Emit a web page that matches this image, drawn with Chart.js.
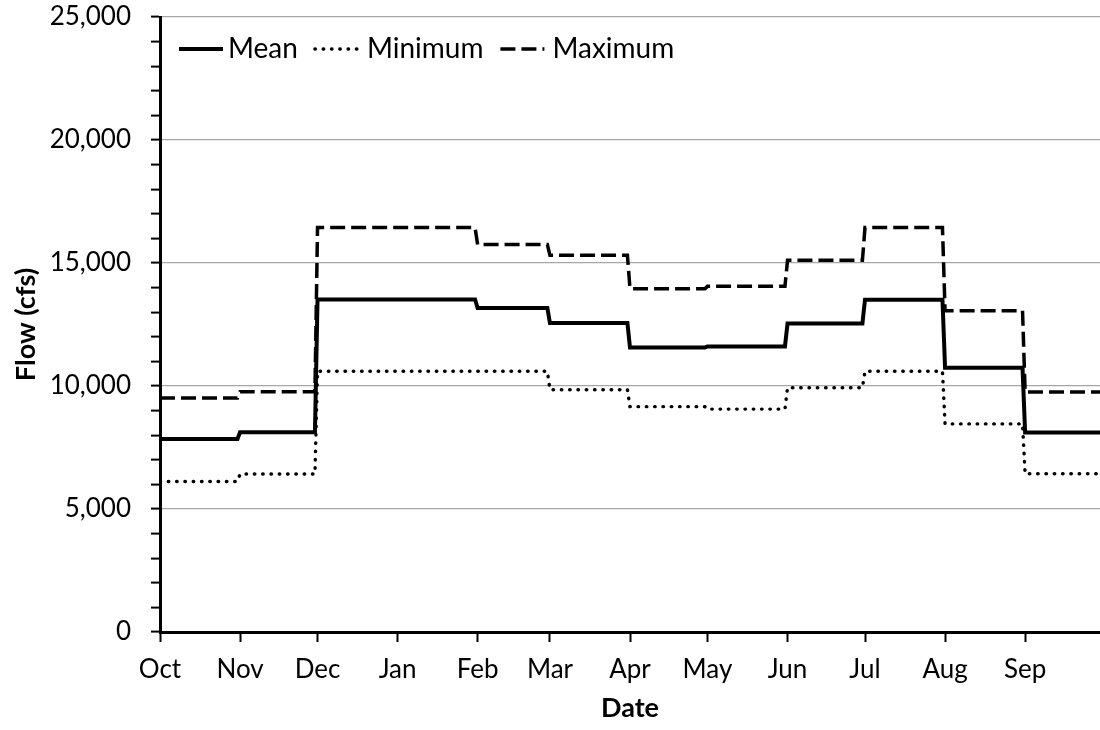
<!DOCTYPE html>
<html>
<head>
<meta charset="utf-8">
<script src="https://cdn.jsdelivr.net/npm/chart.js@4.4.1/dist/chart.umd.min.js"></script>
<style>
  body { margin: 0; background: #fff; }
  #wrap { width: 1100px; height: 730px; }
</style>
</head>
<body>
<div id="wrap"><canvas id="myChart"></canvas></div>
<script>
const monthLabels = ['Oct', 'Nov', 'Dec', 'Jan', 'Feb', 'Mar', 'Apr', 'May', 'Jun', 'Jul', 'Aug', 'Sep'];
// day of water year on which each month starts (Oct 1 = 0)
const monthStartDays = [0, 31, 61, 92, 123, 151, 182, 212, 243, 273, 304, 335];
const lastDay = 364;

const meanFlow = [7850, 8120, 13520, 13520, 13170, 12560, 11560, 11610, 12540, 13510, 10740, 8110];
const minFlow = [6120, 6420, 10600, 10600, 10600, 9850, 9160, 9060, 9930, 10600, 8460, 6430];
const maxFlow = [9510, 9770, 16440, 16440, 15750, 15310, 13950, 14050, 15110, 16440, 13060, 9760];

const yTicks = [0, 5000, 10000, 15000, 20000, 25000];

// one flat segment per month, first to last day
function toSteps(values) {
    let pts = [];
    values.forEach((v, i) => {
        const start = monthStartDays[i];
        const end = i < monthStartDays.length - 1 ? monthStartDays[i + 1] - 1 : lastDay;
        pts.push({ x: start, y: v });
        pts.push({ x: end, y: v });
    })
    return pts;
}

const fontFamily = 'Lato, "Open Sans", sans-serif';
const fontSize = 26;

// legend drawn inside the plot, in one row, line sample touching the label
const inlineLegend = {
    id: 'inlineLegend',
    afterDraw(chart) {
        const ctx = chart.ctx;
        const area = chart.chartArea;
        let x = area.left + 19;
        const y = area.top + 32;
        ctx.save();
        ctx.font = `28px ${fontFamily}`;
        ctx.textBaseline = 'middle';
        ctx.fillStyle = '#000';
        chart.data.datasets.forEach((ds, i) => {
            const gap = i === 0 ? 5 : 8;
            ctx.beginPath();
            ctx.setLineDash(ds.borderDash || []);
            ctx.lineWidth = ds.borderWidth;
            ctx.lineCap = ds.borderCapStyle || 'butt';
            ctx.strokeStyle = ds.borderColor;
            ctx.moveTo(x, y);
            ctx.lineTo(x + 44, y);
            ctx.stroke();
            ctx.fillText(ds.label, x + 44 + gap, y);
            x += 44 + gap + ctx.measureText(ds.label).width + 17;
        })
        ctx.restore();
    }
};

const graphData = {
    datasets: [
        {
            label: 'Mean',
            data: toSteps(meanFlow),
            borderColor: '#000',
            borderWidth: 4,
        },
        {
            label: 'Minimum',
            data: toSteps(minFlow),
            borderColor: '#000',
            borderWidth: 3.4,
            borderDash: [0.5, 7.8],
            borderCapStyle: 'round',
        },
        {
            label: 'Maximum',
            data: toSteps(maxFlow),
            borderColor: '#000',
            borderWidth: 3.5,
            borderDash: [15, 6],
        }
    ]
};

const config = {
    type: 'line',
    data: graphData,
    plugins: [inlineLegend],
    options: {
        responsive: true,
        maintainAspectRatio: false,
        animation: false,
        layout: { padding: 0 },
        elements: {
            point: { radius: 0 },
            line: { tension: 0 }
        },
        plugins: {
            legend: { display: false },
            tooltip: { enabled: false }
        },
        scales: {
            x: {
                type: 'linear',
                min: 0,
                max: lastDay,
                afterFit: (scale) => { scale.height = 98; },
                afterBuildTicks: (axis) => {
                    axis.ticks = monthStartDays.map(d => ({ value: d }));
                },
                border: { color: '#000', width: 3 },
                grid: {
                    drawOnChartArea: false,
                    tickLength: 10,
                    tickColor: '#000',
                    tickWidth: 2
                },
                ticks: {
                    autoSkip: false,
                    maxRotation: 0,
                    padding: 12,
                    color: '#000',
                    font: { family: fontFamily, size: fontSize },
                    callback: (v, i) => monthLabels[i]
                },
                title: {
                    display: true,
                    text: 'Date',
                    color: '#000',
                    padding: { top: 0, bottom: 6 },
                    font: { family: fontFamily, size: 27, weight: 'bold' }
                }
            },
            y: {
                min: 0,
                max: 25000,
                afterFit: (scale) => {
                    scale.width = 160;
                    scale.paddingTop = 17;
                    scale.paddingBottom = 0;
                },
                border: { color: '#000', width: 3 },
                grid: {
                    color: (c) => yTicks.includes(c.tick.value) ? '#a6a6a6' : 'rgba(0,0,0,0)',
                    lineWidth: 1.2,
                    tickLength: 9,
                    tickColor: '#000',
                    tickWidth: 2
                },
                ticks: {
                    stepSize: 1000,
                    autoSkip: false,
                    padding: 20,
                    color: '#000',
                    font: { family: fontFamily, size: fontSize },
                    callback: (v) => yTicks.includes(v) ? v.toLocaleString('en-US') : ''
                },
                title: {
                    display: true,
                    text: 'Flow (cfs)',
                    color: '#000',
                    padding: { top: 10, bottom: 0 },
                    font: { family: fontFamily, size: 27, weight: 'bold' }
                }
            }
        }
    }
};

var myChart = new Chart(
    document.getElementById('myChart'),
    config
);
</script>
</body>
</html>
